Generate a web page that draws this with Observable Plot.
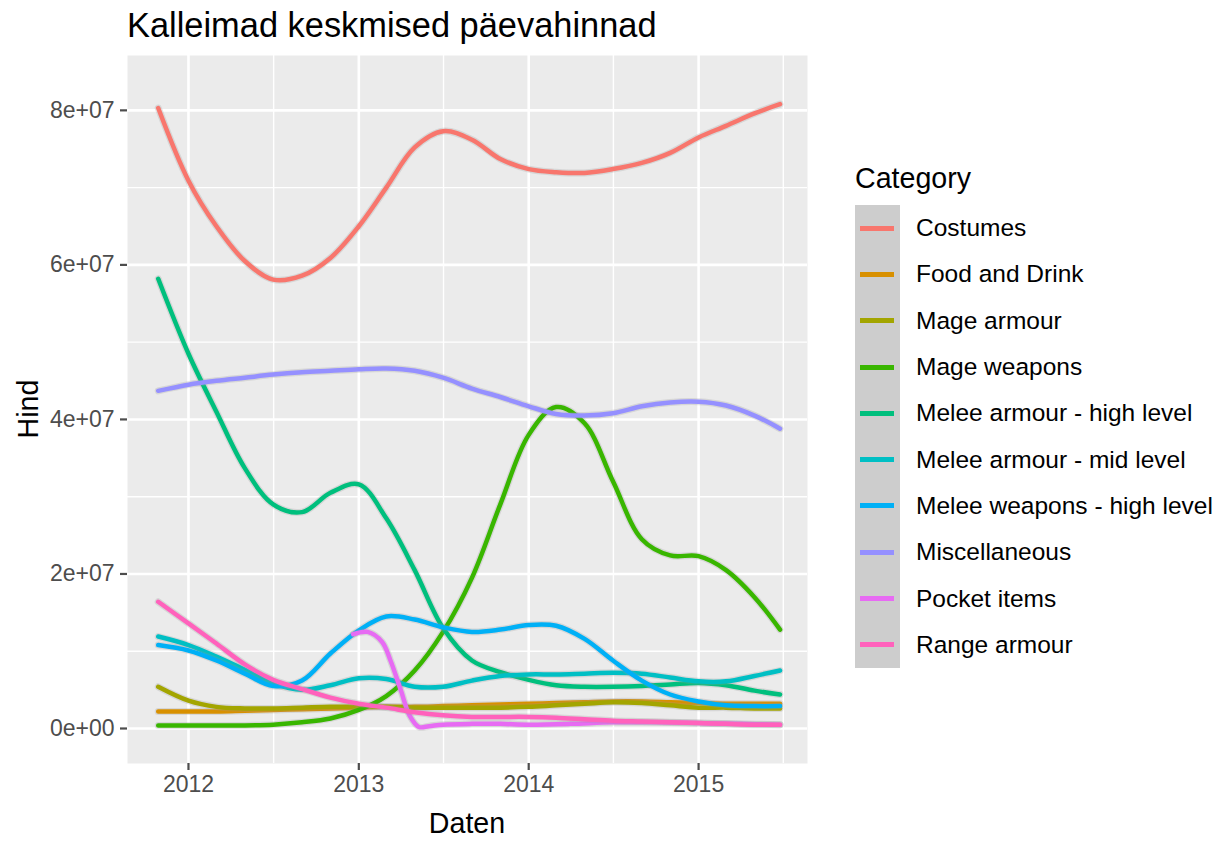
<!DOCTYPE html>
<html><head><meta charset="utf-8">
<script src="https://cdn.jsdelivr.net/npm/d3@7"></script>
<script src="https://cdn.jsdelivr.net/npm/@observablehq/plot@0.6"></script>
<style>
body{margin:0;background:#fff;font-family:"Liberation Sans",Arial,sans-serif;}
#wrap{position:relative;width:1223px;height:841px;overflow:hidden;}
#wrap svg{position:absolute;left:0;top:0;}
.title{position:absolute;left:127px;top:7px;font-size:34.4px;line-height:36px;color:#000;white-space:nowrap;}
.xlab{position:absolute;left:367px;width:200px;text-align:center;top:807px;font-size:28.6px;line-height:32px;color:#000;}
.ylab{position:absolute;left:28px;top:409px;transform:translate(-50%,-50%) rotate(-90deg);font-size:28.6px;line-height:32px;color:#000;}
.legend-title{position:absolute;left:855px;top:162px;font-size:28.6px;line-height:32px;color:#000;}
.legend{position:absolute;left:855px;top:205px;}
.row{display:flex;align-items:center;height:46.3px;}
.key{width:45px;height:46.3px;background:#CDCDCD;position:relative;flex:none;}
.key i{position:absolute;left:5px;right:6px;top:50%;height:5px;margin-top:-2.5px;}
.row span{margin-left:16px;font-size:24.5px;white-space:nowrap;color:#000;}
</style></head>
<body>
<div id="wrap"></div>
<script>
// ---- data ----
const categories = ["Costumes","Food and Drink","Mage armour","Mage weapons","Melee armour - high level","Melee armour - mid level","Melee weapons - high level","Miscellaneous","Pocket items","Range armour"];
const colors = ["#F8766D","#D89000","#A3A500","#39B600","#00BF7D","#00BFC4","#00B0F6","#9590FF","#E76BF3","#FF62BC"];

const dates = ["2011-10-28","2012-01-01","2012-03-01","2012-05-01","2012-07-01","2012-09-01","2012-11-01",
  "2013-01-01","2013-03-01","2013-05-01","2013-07-01","2013-09-01","2013-11-01",
  "2014-01-01","2014-03-01","2014-05-01","2014-07-01","2014-09-01","2014-11-01",
  "2015-01-01","2015-03-01","2015-05-01","2015-06-25"];

const costumes      = [8.03e7,7.09e7,6.50e7,6.05e7,5.81e7,5.86e7,6.09e7,6.50e7,7.00e7,7.52e7,7.73e7,7.62e7,7.37e7,7.24e7,7.20e7,7.19e7,7.24e7,7.32e7,7.45e7,7.65e7,7.80e7,7.96e7,8.08e7];
const foodDrink     = [0.22e7,0.22e7,0.22e7,0.23e7,0.24e7,0.25e7,0.26e7,0.27e7,0.28e7,0.28e7,0.29e7,0.30e7,0.31e7,0.32e7,0.33e7,0.34e7,0.35e7,0.35e7,0.34e7,0.33e7,0.32e7,0.32e7,0.32e7];
const mageArmour    = [0.54e7,0.36e7,0.28e7,0.26e7,0.26e7,0.27e7,0.28e7,0.28e7,0.28e7,0.27e7,0.27e7,0.27e7,0.27e7,0.28e7,0.30e7,0.32e7,0.34e7,0.33e7,0.30e7,0.27e7,0.27e7,0.26e7,0.26e7];
const mageWeapons   = [0.04e7,0.04e7,0.04e7,0.04e7,0.05e7,0.08e7,0.13e7,0.24e7,0.42e7,0.75e7,1.25e7,1.95e7,2.90e7,3.80e7,4.16e7,3.95e7,3.20e7,2.45e7,2.24e7,2.23e7,2.05e7,1.70e7,1.28e7];
const meleeArmourHigh = [5.82e7,4.85e7,4.10e7,3.37e7,2.90e7,2.80e7,3.05e7,3.16e7,2.72e7,2.05e7,1.30e7,0.88e7,0.73e7,0.63e7,0.56e7,0.54e7,0.54e7,0.55e7,0.57e7,0.59e7,0.56e7,0.49e7,0.44e7];
const meleeArmourMid  = [1.19e7,1.08e7,0.93e7,0.76e7,0.58e7,0.50e7,0.56e7,0.65e7,0.64e7,0.54e7,0.54e7,0.62e7,0.68e7,0.70e7,0.70e7,0.71e7,0.72e7,0.71e7,0.66e7,0.61e7,0.61e7,0.68e7,0.75e7];
const meleeWeaponsHigh = [1.08e7,1.01e7,0.88e7,0.71e7,0.55e7,0.62e7,0.97e7,1.27e7,1.45e7,1.41e7,1.31e7,1.25e7,1.28e7,1.34e7,1.33e7,1.16e7,0.88e7,0.62e7,0.44e7,0.35e7,0.30e7,0.29e7,0.29e7];
const miscellaneous = [4.37e7,4.45e7,4.50e7,4.54e7,4.58e7,4.61e7,4.63e7,4.65e7,4.66e7,4.63e7,4.54e7,4.40e7,4.29e7,4.17e7,4.07e7,4.05e7,4.08e7,4.17e7,4.22e7,4.23e7,4.18e7,4.05e7,3.88e7];
const rangeArmour   = [1.64e7,1.36e7,1.10e7,0.83e7,0.63e7,0.51e7,0.40e7,0.32e7,0.27e7,0.21e7,0.17e7,0.15e7,0.15e7,0.15e7,0.14e7,0.12e7,0.10e7,0.09e7,0.08e7,0.07e7,0.06e7,0.05e7,0.05e7];

const pocketDates = ["2012-12-20","2013-01-20","2013-02-20","2013-03-10","2013-04-01","2013-04-20","2013-05-10","2013-06-01","2013-07-01","2013-09-01","2013-11-01","2014-01-01","2014-04-01","2014-07-01","2014-10-01","2015-01-01","2015-04-01","2015-06-25"];
const pocketItems = [1.22e7,1.25e7,1.12e7,0.88e7,0.50e7,0.17e7,0.02e7,0.03e7,0.05e7,0.06e7,0.06e7,0.05e7,0.06e7,0.08e7,0.08e7,0.07e7,0.06e7,0.05e7];

const xTicks = ["2012-01-01","2013-01-01","2014-01-01","2015-01-01"];
const xTickLabels = ["2012","2013","2014","2015"];
const xMinor = ["2011-07-02","2012-07-02","2013-07-02","2014-07-02","2015-07-02"];
const yTicks = [0, 2e7, 4e7, 6e7, 8e7];
const yTickLabels = ["0e+00","2e+07","4e+07","6e+07","8e+07"];
const yMinor = [1e7, 3e7, 5e7, 7e7];

// ---- build table ----
const seriesValues = [costumes, foodDrink, mageArmour, mageWeapons, meleeArmourHigh, meleeArmourMid, meleeWeaponsHigh, miscellaneous, pocketItems, rangeArmour];
const rows = [];
categories.forEach((c, i) => {
  const ds = c === "Pocket items" ? pocketDates : dates;
  seriesValues[i].forEach((v, j) => rows.push({category: c, date: new Date(ds[j]), value: v}));
});

const xT = xTicks.map(d => new Date(d));
const lineMarks = [];
categories.forEach(c => {
  const sub = rows.filter(r => r.category === c);
  lineMarks.push(Plot.line(sub, {x: "date", y: "value", stroke: "#999999", strokeOpacity: 0.25, strokeWidth: 7, curve: "catmull-rom"}));
  lineMarks.push(Plot.line(sub, {x: "date", y: "value", stroke: "category", strokeWidth: 4.5, curve: "catmull-rom"}));
});

const chart = Plot.plot({
  width: 1223, height: 841,
  marginLeft: 127, marginRight: 416, marginTop: 55, marginBottom: 78,
  style: {background: "transparent", fontFamily: "'Liberation Sans', Arial, sans-serif"},
  x: {type: "utc", domain: [new Date("2011-08-23"), new Date("2015-08-23")], label: null},
  y: {domain: [-0.453e7, 8.71e7], label: null},
  color: {domain: categories, range: colors},
  marks: [
    Plot.frame({fill: "#EBEBEB", stroke: "none"}),
    Plot.gridX(xMinor.map(d => new Date(d)), {stroke: "white", strokeOpacity: 1, strokeWidth: 1.4}),
    Plot.gridY(yMinor, {stroke: "white", strokeOpacity: 1, strokeWidth: 1.4}),
    Plot.gridX(xT, {stroke: "white", strokeOpacity: 1, strokeWidth: 2.6}),
    Plot.gridY(yTicks, {stroke: "white", strokeOpacity: 1, strokeWidth: 2.6}),
    ...lineMarks,
    Plot.axisX({ticks: xT, tickFormat: d => xTickLabels[xT.findIndex(t => +t === +d)], tickSize: 7, tickPadding: 5, fontSize: 23, color: "#4D4D4D", strokeWidth: 2.2, label: null}),
    Plot.axisY({ticks: yTicks, tickFormat: d => yTickLabels[yTicks.indexOf(d)], tickSize: 7, tickPadding: 6, fontSize: 23, color: "#4D4D4D", strokeWidth: 2.2, label: null})
  ]
});

const wrap = document.getElementById("wrap");
wrap.appendChild(chart);

const add = (cls, txt) => { const d = document.createElement("div"); d.className = cls; if (txt) d.textContent = txt; wrap.appendChild(d); return d; };
add("title", "Kalleimad keskmised päevahinnad");
add("xlab", "Daten");
add("ylab", "Hind");
add("legend-title", "Category");
const leg = add("legend");
categories.forEach((c, i) => {
  const row = document.createElement("div"); row.className = "row";
  const key = document.createElement("div"); key.className = "key";
  const ln = document.createElement("i"); ln.style.background = colors[i]; key.appendChild(ln);
  const sp = document.createElement("span"); sp.textContent = c;
  row.appendChild(key); row.appendChild(sp); leg.appendChild(row);
});
</script>
</body></html>
